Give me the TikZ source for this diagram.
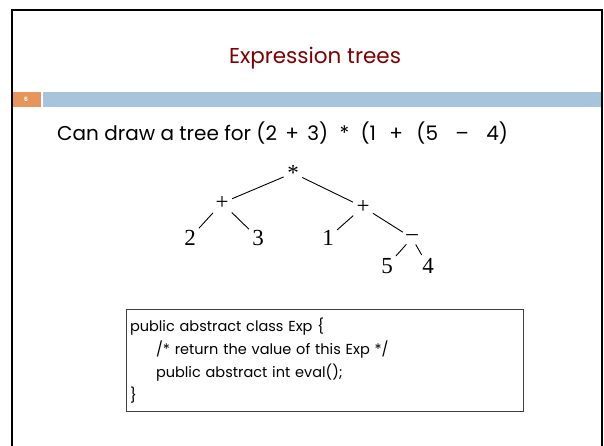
\documentclass[tikz,border=0pt]{standalone}
\usepackage{fontspec}
\setmainfont{Poppins}
\newfontfamily\treefont{Liberation Serif}
\usetikzlibrary{positioning}
\definecolor{titlered}{RGB}{128,0,0}
\definecolor{barblue}{RGB}{166,196,220}
\definecolor{barorange}{RGB}{230,150,90}

\begin{document}
\begin{tikzpicture}[x=1pt, y=-1pt,
  op/.style={font=\treefont\fontsize{23}{23}\selectfont, inner sep=2pt},
  edge/.style={line width=0.9pt, shorten <=1.5pt, shorten >=1.5pt},
  codebox/.style={draw=black!75, line width=1pt, anchor=north west, text width=390pt,
    align=left, minimum width=397pt, minimum height=102pt, inner sep=3pt,
    font=\fontsize{14.5}{23}\selectfont}
]
  \useasboundingbox (0,0) rectangle (604,446);
  % slide frame and header bar
  \draw[line width=1.8pt] (12,447) -- (12,10) -- (602,10) -- (602,447);
  \fill[barorange] (13,92) rectangle (41,107);
  \fill[barblue] (43,92) rectangle (601,107);
  \node[text=white, font=\fontsize{6}{6}\selectfont\bfseries] (num) at (26,99.5) {6};

  \node[text=titlered, font=\fontsize{21.5}{22}\selectfont] (title) at (315,58) {Expression trees};
  \node[anchor=west, font=\fontsize{20}{20}\selectfont, inner sep=0pt] (intro) at (57,133)
    {Can draw a tree for (2 \hspace{3pt}+ \hspace{3pt}3) \hspace{6pt}* \hspace{6pt}(1
     \hspace{8pt}+ \hspace{8pt}(5 \hspace{12pt}– \hspace{12pt}4)};

  % the tree
  \node[op] (times) at (293,173) {*};
  \node[op] (plusl) at (222,203) {+};
  \node[op] (two) at (190,238) {2};
  \node[op] (three) at (258,238) {3};
  \node[op] (plusr) at (363,207) {+};
  \node[op] (one) at (328,238) {1};
  \node[op] (minus) at (412,238) {–};
  \node[op] (five) at (387,266) {5};
  \node[op] (four) at (428,266) {4};

  \draw[edge] (times) -- (plusl);
  \draw[edge] (times) -- (plusr);
  \draw[edge] (plusl) -- (two);
  \draw[edge] (plusl) -- (three);
  \draw[edge] (plusr) -- (one);
  \draw[edge] (plusr) -- (minus);
  \draw[edge] (minus) -- (five);
  \draw[edge] (minus) -- (four);

  \node[codebox] (code) at (126,309) {public abstract class Exp \{\\
    \hspace*{26pt}/* return the value of this Exp */\\
    \hspace*{26pt}public abstract int eval();\\
    \}};
\end{tikzpicture}
\end{document}
